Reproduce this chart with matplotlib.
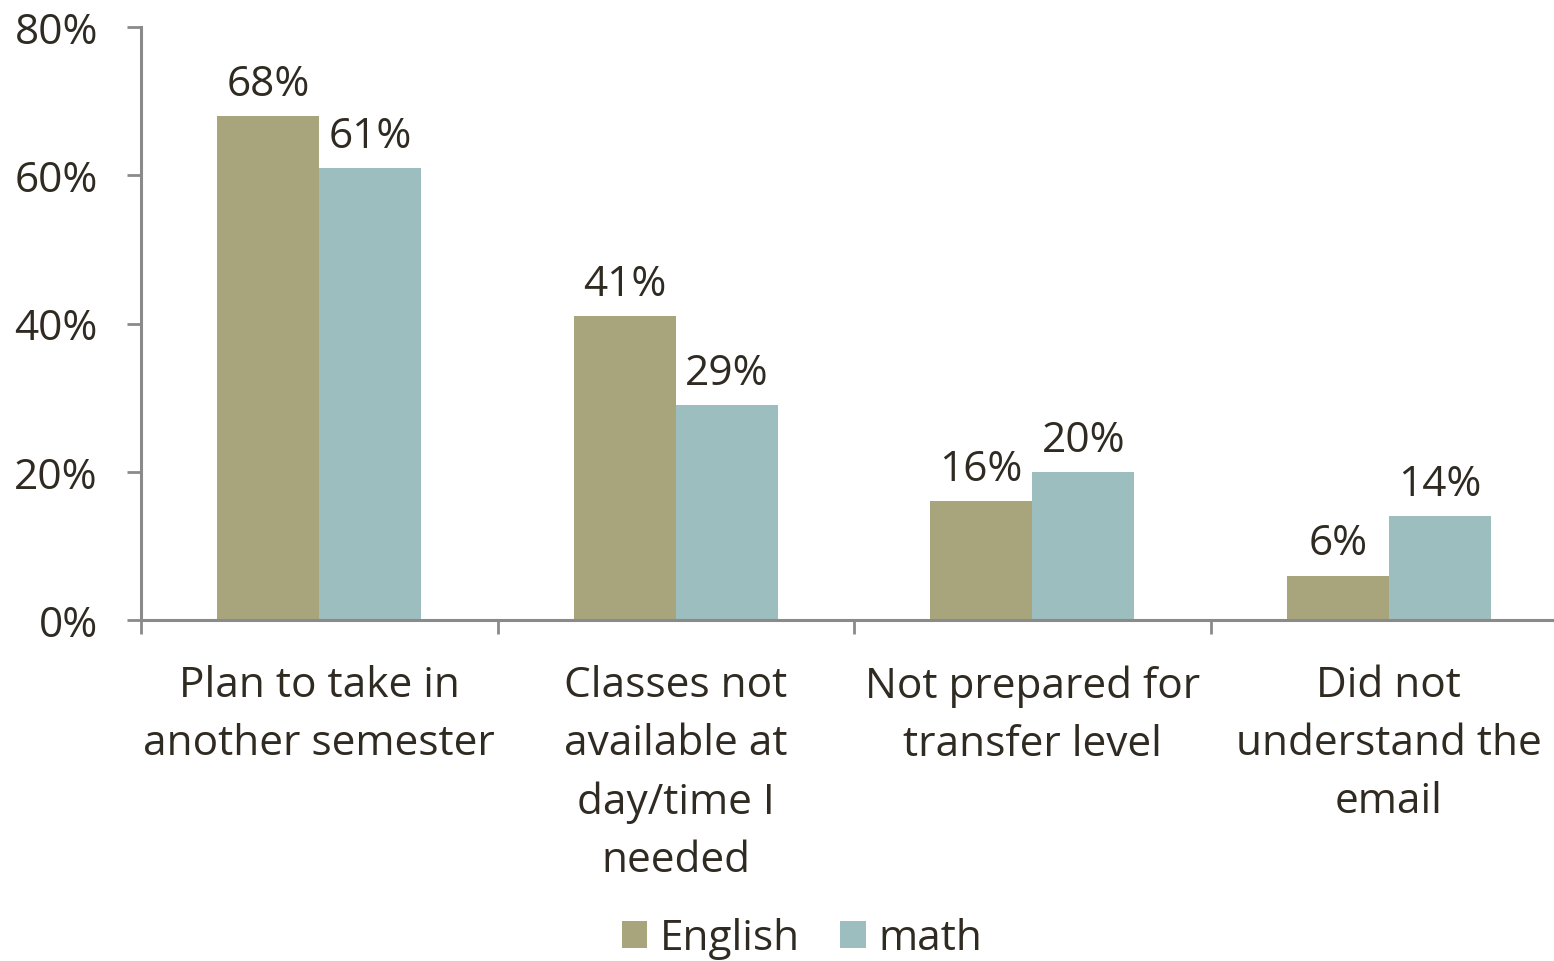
import numpy as np
import matplotlib.pyplot as plt
from matplotlib.ticker import FixedLocator, PercentFormatter

categories = ["Plan to take in\nanother semester",
              "Classes not\navailable at\nday/time I\nneeded",
              "Not prepared for\ntransfer level",
              "Did not\nunderstand the\nemail"]
english = [68, 41, 16, 6]
math_vals = [61, 29, 20, 14]
series_names = ["English", "math"]

col_eng = "#A8A57C"
col_math = "#9DBEBE"
text_col = "#302B22"
axis_col = "#8A8A8A"
fs = 30.5

plt.rcParams['font.family'] = ['Open Sans', 'DejaVu Sans']

fig = plt.figure(figsize=(15.54, 9.62), dpi=100)
ax = fig.add_axes([141 / 1554, 1 - 621 / 962, (1567 - 141) / 1554, (621 - 28) / 962])

x = np.arange(len(categories))
w = 0.286
b1 = ax.bar(x - w / 2, english, w, color=col_eng, label=series_names[0])
b2 = ax.bar(x + w / 2, math_vals, w, color=col_math, label=series_names[1])

for bars in (b1, b2):
    ax.bar_label(bars, labels=[f"{v}%" for v in bars.datavalues],
                 padding=8, fontsize=fs, color=text_col)

ax.set_xlim(-0.5, 3.5)
ax.set_ylim(0, 80)
ax.set_yticks([0, 20, 40, 60, 80])
ax.yaxis.set_major_formatter(PercentFormatter(decimals=0))
ax.set_xticks(x)
ax.set_xticklabels(categories, fontsize=fs, color=text_col, linespacing=1.5)
ax.xaxis.set_minor_locator(FixedLocator([-0.5, 0.5, 1.5, 2.5]))
ax.tick_params(axis='x', which='major', length=0, pad=32)
ax.tick_params(axis='x', which='minor', length=10, width=2, color=axis_col, direction='out')
ax.tick_params(axis='y', length=10, width=2, color=axis_col, labelsize=fs,
               labelcolor=text_col, pad=21)

for s in ['top', 'right']:
    ax.spines[s].set_visible(False)
for s in ['left', 'bottom']:
    ax.spines[s].set_color(axis_col)
    ax.spines[s].set_linewidth(2.2)

leg = fig.legend(loc='lower center', bbox_to_anchor=(0.516, -0.038), ncol=2, frameon=False,
                 fontsize=fs, handlelength=0.6, handleheight=0.6, handletextpad=0.3,
                 columnspacing=0.95)
for t in leg.get_texts():
    t.set_color(text_col)

fig.savefig("out.png", dpi=100)
